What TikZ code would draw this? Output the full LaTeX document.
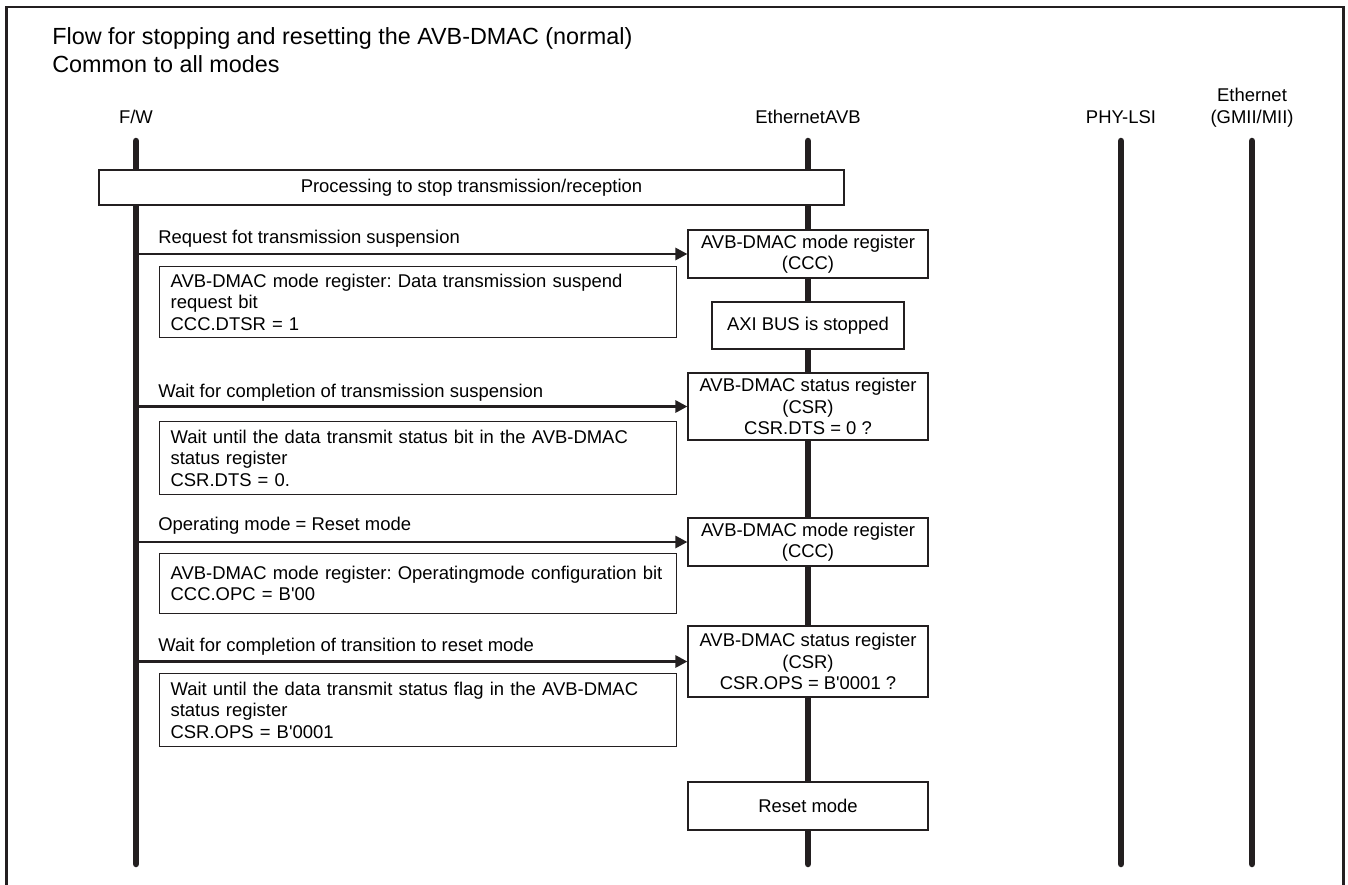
\documentclass[tikz,border=0pt]{standalone}
\usepackage{fontspec}
\setmainfont{Liberation Sans}
\usepackage{tikz}
\usetikzlibrary{arrows.meta,positioning}
\definecolor{ink}{RGB}{35,31,32}
\newcommand{\bodyfont}{\fontsize{10.5}{12.2}\selectfont}
\newcommand{\straightq}{\textquotesingle}
\frenchspacing

\begin{document}
\begin{tikzpicture}[x=0.02cm,y=-0.02cm,
  lifeline/.style={draw=ink,line width=0.13cm,line cap=round},
  regbox/.style={draw=ink,fill=white,line width=0.7pt,minimum width=4.8cm,
    align=center,inner sep=1pt,font=\bodyfont},
  notebox/.style={draw=ink,fill=white,line width=0.7pt,anchor=north west,
    text width=9.9cm,inner xsep=0.22cm,inner ysep=1pt,align=left,font=\bodyfont},
  msg/.style={draw=ink,line width=1.6pt,-{Triangle[length=0.24cm,width=0.24cm]}},
  msglabel/.style={anchor=base west,inner sep=0pt,font=\bodyfont},
  head/.style={anchor=base,align=center,inner sep=0pt,font=\fontsize{10.5}{13}\selectfont}]
  \useasboundingbox (0,0) rectangle (1348,885);
  \draw[ink,line width=1.2pt] (6.5,885) -- (6.5,7) -- (1343.5,7) -- (1343.5,885);

  \node[anchor=base west,inner sep=0pt,font=\fontsize{13.3}{15}\selectfont] (title) at (52,45)
    {Flow for stopping and resetting the AVB-DMAC (normal)};
  \node[anchor=base west,inner sep=0pt,font=\fontsize{13.3}{15}\selectfont] (subtitle) at (52,73)
    {Common to all modes};

  % lifelines
  \node[head] (fw) at (136,124) {F/W};
  \node[head] (avb) at (808,124) {EthernetAVB};
  \node[head] (phy) at (1121,124) {PHY-LSI};
  \node[head] (eth) at (1252,124) {Ethernet\\(GMII/MII)};
  \foreach \n/\x in {fw/136,avb/808,phy/1121,eth/1252}{
    \coordinate (\n top) at (\x,141);
    \coordinate (\n bot) at (\x,864);
    \draw[lifeline] (\n top) -- (\n bot);
  }

  \node[regbox,minimum width=14.9cm,minimum height=0.7cm] (stop) at (471.5,187.5)
    {Processing to stop transmission/reception};

  % EthernetAVB side
  \node[regbox,minimum height=0.96cm] (ccc1) at (808,254) {AVB-DMAC mode register\\(CCC)};
  \node[regbox,minimum width=3.84cm,minimum height=0.94cm] (axi) at (808,325.5) {AXI BUS is stopped};
  \node[regbox,minimum height=1.34cm] (csr1) at (808,406.5)
    {AVB-DMAC status register\\(CSR)\\CSR.DTS = 0 ?};
  \node[regbox,minimum height=0.96cm] (ccc2) at (808,542) {AVB-DMAC mode register\\(CCC)};
  \node[regbox,minimum height=1.42cm] (csr2) at (808,661.5)
    {AVB-DMAC status register\\(CSR)\\CSR.OPS = B\straightq0001 ?};
  \node[regbox,minimum height=0.96cm] (reset) at (808,806) {Reset mode};

  % F/W side
  \node[msglabel] (m1) at (158,243) {Request fot transmission suspension};
  \draw[msg] (fwtop |- ccc1.west) -- (ccc1.west);
  \node[notebox,minimum height=1.42cm] (n1) at (159,266)
    {AVB-DMAC mode register: Data transmission suspend\\request bit\\CCC.DTSR = 1};

  \node[msglabel] (m2) at (158,397) {Wait for completion of transmission suspension};
  \draw[msg] (fwtop |- csr1.west) -- (csr1.west);
  \node[notebox,minimum height=1.46cm] (n2) at (159,421)
    {Wait until the data transmit status bit in the AVB-DMAC\\status register\\CSR.DTS = 0.};

  \node[msglabel] (m3) at (158,530) {Operating mode = Reset mode};
  \draw[msg] (fwtop |- ccc2.west) -- (ccc2.west);
  \node[notebox,minimum height=1.2cm] (n3) at (159,553)
    {AVB-DMAC mode register: Operatingmode configuration bit\\CCC.OPC = B\straightq00};

  \node[msglabel] (m4) at (158,651) {Wait for completion of transition to reset mode};
  \draw[msg] (fwtop |- csr2.west) -- (csr2.west);
  \node[notebox,minimum height=1.46cm] (n4) at (159,673)
    {Wait until the data transmit status flag in the AVB-DMAC\\status register\\CSR.OPS = B\straightq0001};
\end{tikzpicture}
\end{document}
